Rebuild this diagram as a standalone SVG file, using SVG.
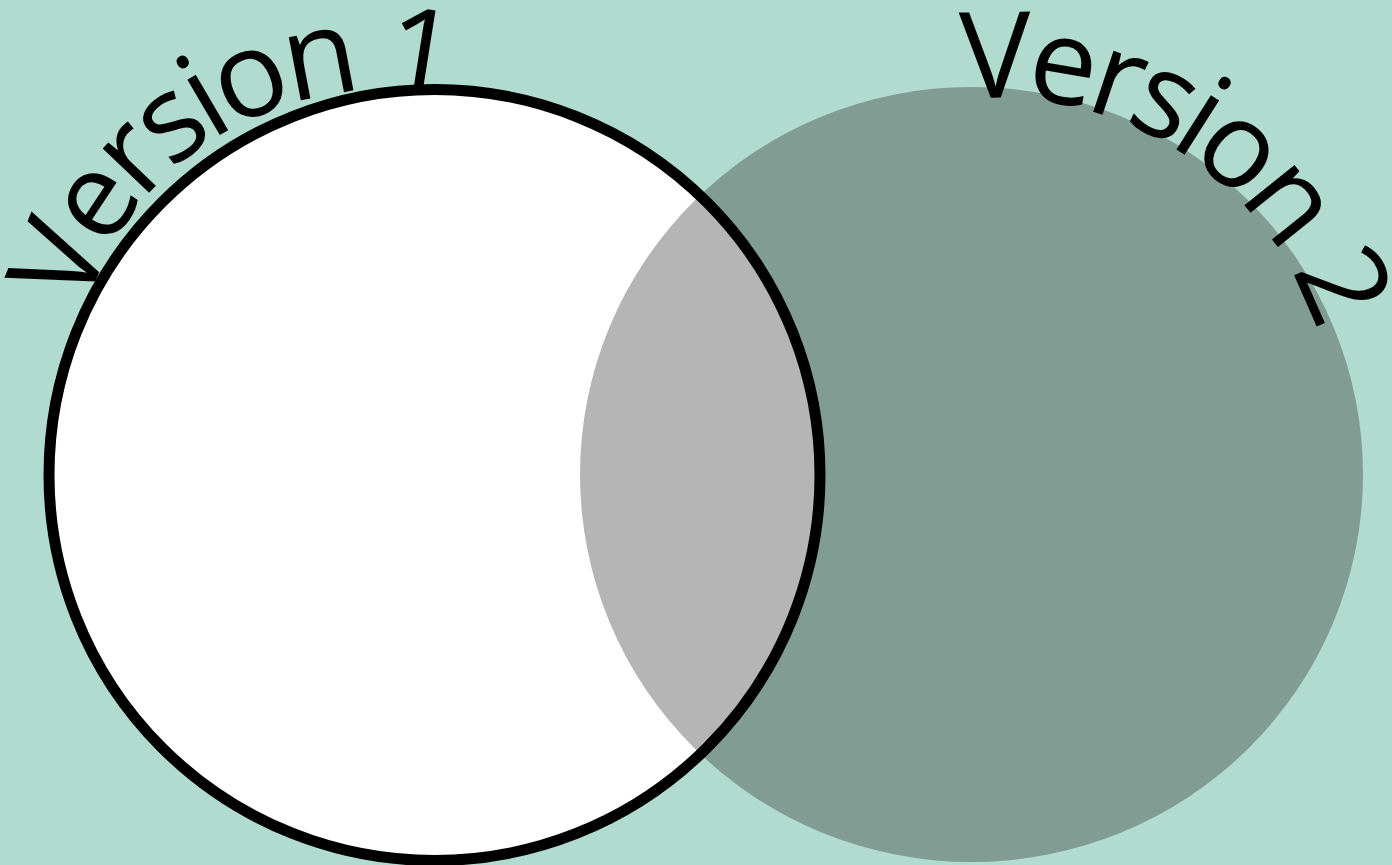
<svg xmlns="http://www.w3.org/2000/svg" width="1392" height="865" viewBox="0 0 1392 865">
  <style>
    .label { font-family: "Open Sans", "Noto Sans", "Liberation Sans", sans-serif; font-size: 120px; fill: #000; }
  </style>
  <defs>
    <clipPath id="clipV2">
      <ellipse cx="971.5" cy="474.5" rx="391.5" ry="387.5"/>
    </clipPath>
    <path id="arcV1" d="M 74 333.6 L 96.7 278 C 160.9 120.6 326 78 414.6 94 L 473.7 104.4" fill="none"/>
    <path id="arcV2" d="M 882.8 118 A 335 335 0 0 1 1332.4 432.8" fill="none"/>
  </defs>
  <rect x="0" y="0" width="1392" height="865" fill="#b2dbcf"/>
  <g id="version2">
    <ellipse cx="971.5" cy="474.5" rx="391.5" ry="387.5" fill="#809c93"/>
  </g>
  <g id="version1">
    <circle cx="434.5" cy="475" r="385.5" fill="#ffffff"/>
    <circle cx="434.5" cy="475" r="385.5" fill="#b5b5b5" clip-path="url(#clipV2)"/>
    <circle cx="434.5" cy="475" r="385.5" fill="none" stroke="#000" stroke-width="11"/>
  </g>
  <g id="labels">
    <text class="label" letter-spacing="-7.2"><textPath href="#arcV1" startOffset="25.5">Version 1</textPath></text>
    <text class="label" letter-spacing="-7.3"><textPath href="#arcV2" startOffset="79.5">Version 2</textPath></text>
  </g>
</svg>
